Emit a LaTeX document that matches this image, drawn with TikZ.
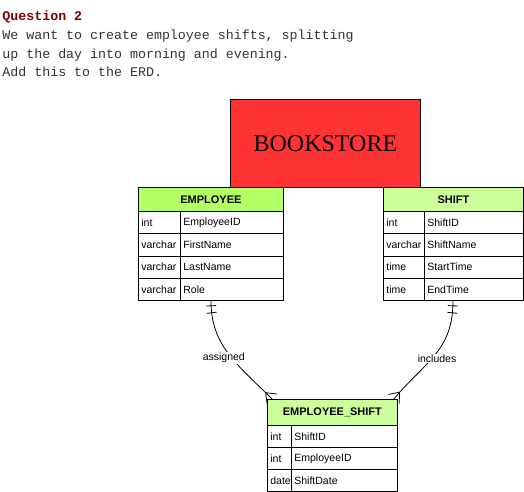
\documentclass[tikz,border=0pt]{standalone}
\usepackage{fontspec}
\setmainfont{Liberation Sans}
\setmonofont{Liberation Mono}
\newfontfamily\bookfont{Liberation Serif}
\usepackage{tikz}
\usetikzlibrary{decorations.markings}

\definecolor{bookred}{RGB}{255,51,51}
\definecolor{empgreen}{RGB}{178,255,102}
\definecolor{shiftgreen}{RGB}{204,255,153}
\definecolor{qred}{RGB}{128,0,0}
\definecolor{qgray}{RGB}{51,51,51}

\newcommand{\qfont}{\ttfamily\fontsize{13.3}{19}\selectfont}
\newcommand{\cellfont}{\fontsize{10.5}{12}\selectfont}
\newcommand{\hdrfont}{\bfseries\fontsize{11}{13}\selectfont}

\tikzset{
  qline/.style={anchor=base west,inner sep=0pt,font=\qfont,text=qgray},
  hdr/.style={draw,anchor=north west,minimum width=#1,minimum height=24pt,
    inner sep=0pt,font=\hdrfont},
  cell/.style={draw,anchor=north west,minimum height=22.25pt,inner xsep=3pt,
    inner ysep=0pt,text width=#1,align=left,font=\cellfont},
  lbl/.style={fill=white,inner sep=1pt,font=\cellfont},
  onemany/.style={line width=0.8pt,postaction={decorate},decoration={markings,
    mark=at position 5pt with {\draw (0,-5pt)--(0,5pt);},
    mark=at position 12pt with {\draw (0,-5pt)--(0,5pt);},
    mark=at position 1 with {\draw (-9pt,0)--(0,7pt); \draw (-9pt,0)--(0,-7pt);}}}
}

\begin{document}
\begin{tikzpicture}[x=1pt,y=-1pt,line width=0.8pt]
\useasboundingbox (0,0) rectangle (524,491);

% question text
\node[qline,text=qred,font=\qfont\bfseries] (q1) at (2,20.7) {Question 2};
\node[qline] (q2) at (2,39.4) {We want to create employee shifts, splitting};
\node[qline] (q3) at (2,58.1) {up the day into morning and evening.};
\node[qline] (q4) at (2,76.8) {Add this to the ERD.};

% bookstore
\node[draw,fill=bookred,anchor=north west,minimum width=190pt,minimum height=88pt,
  inner sep=0pt,font=\bookfont\fontsize{24}{28}\selectfont] (book) at (230,99) {BOOKSTORE};

% EMPLOYEE
\node[hdr=145pt,fill=empgreen] (emp) at (138,187) {EMPLOYEE};
\node[cell=36pt] (emp1t) at (138,211) {int};
\node[cell=97pt] (emp1n) at (180,211) {EmployeeID};
\node[cell=36pt] (emp2t) at (138,233.25) {varchar};
\node[cell=97pt] (emp2n) at (180,233.25) {FirstName};
\node[cell=36pt] (emp3t) at (138,255.5) {varchar};
\node[cell=97pt] (emp3n) at (180,255.5) {LastName};
\node[cell=36pt] (emp4t) at (138,277.75) {varchar};
\node[cell=97pt] (emp4n) at (180,277.75) {Role};

% SHIFT
\node[hdr=140pt,fill=shiftgreen] (shift) at (383,187) {SHIFT};
\node[cell=35pt] (sh1t) at (383,211) {int};
\node[cell=93pt] (sh1n) at (424,211) {ShiftID};
\node[cell=35pt] (sh2t) at (383,233.25) {varchar};
\node[cell=93pt] (sh2n) at (424,233.25) {ShiftName};
\node[cell=35pt] (sh3t) at (383,255.5) {time};
\node[cell=93pt] (sh3n) at (424,255.5) {StartTime};
\node[cell=35pt] (sh4t) at (383,277.75) {time};
\node[cell=93pt] (sh4n) at (424,277.75) {EndTime};

% EMPLOYEE_SHIFT
\node[hdr=130pt,minimum height=26pt,fill=shiftgreen] (es) at (267,399) {EMPLOYEE\_SHIFT};
\node[cell=18pt,minimum height=22pt] (es1t) at (267,425) {int};
\node[cell=100pt,minimum height=22pt] (es1n) at (291,425) {ShiftID};
\node[cell=18pt,minimum height=22pt] (es2t) at (267,447) {int};
\node[cell=100pt,minimum height=22pt] (es2n) at (291,447) {EmployeeID};
\node[cell=18pt,minimum height=22pt] (es3t) at (267,469) {date};
\node[cell=100pt,minimum height=22pt] (es3n) at (291,469) {ShiftDate};

% relationships
\draw[onemany] ([xshift=31pt]emp4n.south west) .. controls +(0,45) and +(-35,-35) ..
  node[lbl,pos=0.55,xshift=-8pt] (assigned) {assigned} ([xshift=5pt]es.north west);
\draw[onemany] ([xshift=29pt]sh4n.south west) .. controls +(0,50) and +(32,-38) ..
  node[lbl,pos=0.55,xshift=5pt] (includes) {includes} ([xshift=-4pt]es.north east);
\end{tikzpicture}
\end{document}
